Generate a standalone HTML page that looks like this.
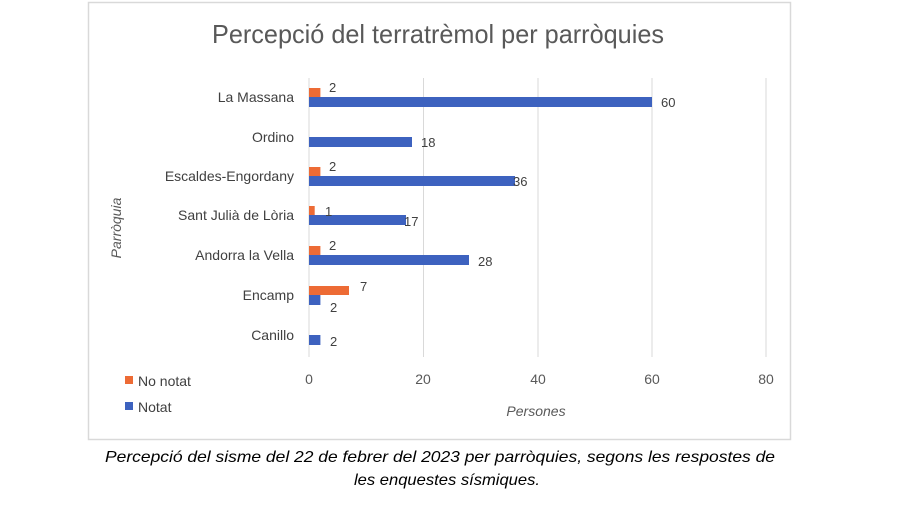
<!DOCTYPE html>
<html><head><meta charset="utf-8"><style>
body{margin:0;background:#fff;width:900px;height:500px;overflow:hidden}
</style></head><body>
<svg width="900" height="500" xmlns="http://www.w3.org/2000/svg" font-family="Liberation Sans, sans-serif">
<rect x="88.5" y="2.5" width="702" height="437" fill="#fff" stroke="#d9d9d9" stroke-width="1.5"/>
<text x="438" y="43" text-anchor="middle" font-size="26" fill="#595959" textLength="452" lengthAdjust="spacingAndGlyphs">Percepció del terratrèmol per parròquies</text>
<g stroke="#d9d9d9" stroke-width="1">
<line x1="423.5" y1="78" x2="423.5" y2="357"/>
<line x1="538" y1="78" x2="538" y2="357"/>
<line x1="652" y1="78" x2="652" y2="357"/>
<line x1="766" y1="78" x2="766" y2="357"/>
<line x1="309" y1="78" x2="309" y2="357"/>
</g>
<g font-size="14" fill="#404040" text-anchor="end">
<text x="294" y="102">La Massana</text>
<text x="294" y="142">Ordino</text>
<text x="294" y="181">Escaldes-Engordany</text>
<text x="294" y="220">Sant Julià de Lòria</text>
<text x="294" y="260">Andorra la Vella</text>
<text x="294" y="300">Encamp</text>
<text x="294" y="340">Canillo</text>
</g>
<g fill="#ed6b35">
<rect x="309" y="88" width="11.4" height="9"/>
<rect x="309" y="167" width="11.4" height="9"/>
<rect x="309" y="206" width="5.7" height="9"/>
<rect x="309" y="246" width="11.4" height="9"/>
<rect x="309" y="286" width="40" height="9"/>
</g>
<g fill="#3d62bf">
<rect x="309" y="97" width="343" height="10"/>
<rect x="309" y="137" width="103" height="10"/>
<rect x="309" y="176" width="206" height="10"/>
<rect x="309" y="215" width="97" height="10"/>
<rect x="309" y="255" width="160" height="10"/>
<rect x="309" y="295" width="11.4" height="10"/>
<rect x="309" y="335" width="11.4" height="10"/>
</g>
<g font-size="13" fill="#404040">
<text x="329" y="92">2</text><text x="661" y="107">60</text>
<text x="421" y="147">18</text>
<text x="329" y="171">2</text><text x="513" y="186">36</text>
<text x="325" y="216">1</text><text x="404" y="226">17</text>
<text x="329" y="250">2</text><text x="478" y="266">28</text>
<text x="360" y="291">7</text><text x="330" y="312">2</text>
<text x="330" y="346">2</text>
</g>
<g font-size="14" fill="#595959" text-anchor="middle">
<text x="309" y="384">0</text><text x="423" y="384">20</text><text x="538" y="384">40</text><text x="652" y="384">60</text><text x="766" y="384">80</text>
</g>
<text x="536" y="416" text-anchor="middle" font-size="14" font-style="italic" fill="#595959">Persones</text>
<text transform="translate(121,228) rotate(-90)" text-anchor="middle" font-size="14" font-style="italic" fill="#595959">Parròquia</text>
<rect x="125" y="376" width="8" height="8" fill="#ed6b35"/>
<text x="138" y="386" font-size="14" fill="#404040">No notat</text>
<rect x="125" y="402" width="8" height="8" fill="#3d62bf"/>
<text x="138" y="412" font-size="14" fill="#404040">Notat</text>
<g font-size="16" font-style="italic" fill="#000" text-anchor="middle">
<text x="440" y="462" textLength="670" lengthAdjust="spacingAndGlyphs">Percepció del sisme del 22 de febrer del 2023 per parròquies, segons les respostes de</text>
<text x="447" y="485" textLength="186" lengthAdjust="spacingAndGlyphs">les enquestes sísmiques.</text>
</g>
</svg>
</body></html>
